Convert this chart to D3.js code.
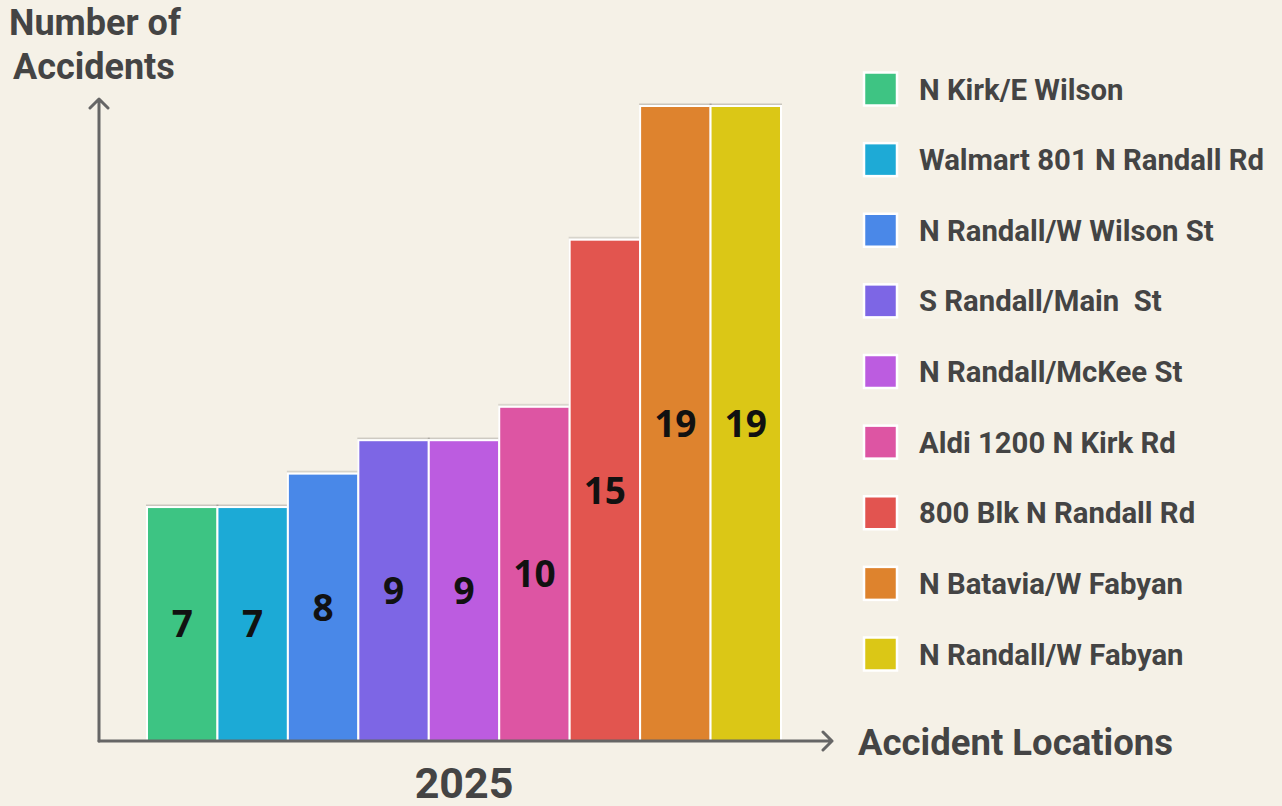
<!DOCTYPE html>
<html>
<head>
<meta charset="utf-8">
<script src="https://cdn.jsdelivr.net/npm/d3@7"></script>
<style>
  html, body { margin: 0; padding: 0; background: #f5f1e7; }
  svg { display: block; }
  text { white-space: pre; }
</style>
</head>
<body>
<svg id="chart" width="1282" height="806"></svg>
<script>
const locations = [
  "N Kirk/E Wilson",
  "Walmart 801 N Randall Rd",
  "N Randall/W Wilson St",
  "S Randall/Main  St",
  "N Randall/McKee St",
  "Aldi 1200 N Kirk Rd",
  "800 Blk N Randall Rd",
  "N Batavia/W Fabyan",
  "N Randall/W Fabyan",
]
const accidents = [7, 7, 8, 9, 9, 10, 15, 19, 19]
const colors = [
  "#3ec483", "#1eaad6", "#4a88e8", "#7d66e5", "#bc5ce0",
  "#dd55a3", "#e25450", "#de832d", "#dbc716",
]
const yearLabel = "2025"

const svg = d3.select("#chart")
const W = 1282, H = 806
svg.append("rect").attr("width", W).attr("height", H).attr("fill", "#f5f1e7")

const defs = svg.append("defs")
const shadow = defs.append("filter").attr("id", "shadow")
  .attr("x", "-5%").attr("y", "-5%").attr("width", "110%").attr("height", "110%")
shadow.append("feDropShadow").attr("dx", 0).attr("dy", -1.5).attr("stdDeviation", 0.6)
  .attr("flood-color", "#000").attr("flood-opacity", 0.18)

const axisColor = "#666"
const textColor = "#444"
const origin = { x: 99, y: 741 }

// scales
const x = d3.scaleBand().domain(locations).range([147, 781]).padding(0)
const y = d3.scaleLinear().domain([0, 19]).range([origin.y, 106])

// bars
const bars = svg.append("g")
bars.selectAll("rect")
  .data(accidents)
  .join("rect")
  .attr("x", (d, i) => x(locations[i]))
  .attr("y", (d) => y(d))
  .attr("width", x.bandwidth())
  .attr("height", (d) => y(0) - y(d))
  .attr("fill", (d, i) => colors[i])
  .attr("stroke", "#fff")
  .attr("stroke-width", 2)
  .attr("filter", "url(#shadow)")

// value labels, centred in each bar
bars.selectAll("text")
  .data(accidents)
  .join("text")
  .attr("x", (d, i) => x(locations[i]) + x.bandwidth() / 2)
  .attr("y", (d) => (y(d) + y(0)) / 2)
  .attr("dy", "0.36em")
  .attr("text-anchor", "middle")
  .attr("font-family", "'Open Sans', 'Noto Sans', sans-serif")
  .attr("font-weight", "bold")
  .attr("font-size", 37)
  .attr("fill", "#111")
  .text((d) => d)

// axes with arrows
const axes = svg.append("g").attr("stroke", axisColor).attr("stroke-width", 3).attr("fill", "none")
  .attr("stroke-linecap", "round").attr("stroke-linejoin", "round")
axes.append("path").attr("d", `M${origin.x},${origin.y} V99 M${origin.x - 9},${108} L${origin.x},99 L${origin.x + 9},108`)
axes.append("path").attr("d", `M${origin.x},${origin.y} H832 M823,${origin.y - 9} L832,${origin.y} L823,${origin.y + 9}`)

// axis titles
const font = "Roboto, 'Noto Sans', sans-serif"
svg.append("text")
  .attr("x", 9).attr("y", 35)
  .attr("font-family", font).attr("font-weight", "bold").attr("font-size", 36)
  .attr("fill", textColor).text("Number of")
svg.append("text")
  .attr("x", 13).attr("y", 79)
  .attr("font-family", font).attr("font-weight", "bold").attr("font-size", 36)
  .attr("fill", textColor).text("Accidents")
svg.append("text")
  .attr("x", 858).attr("y", 755)
  .attr("font-family", font).attr("font-weight", "bold").attr("font-size", 36.5)
  .attr("fill", textColor).text("Accident Locations")
svg.append("text")
  .attr("x", 464).attr("y", 798)
  .attr("text-anchor", "middle")
  .attr("font-family", font).attr("font-weight", "bold").attr("font-size", 43)
  .attr("fill", textColor).text(yearLabel)

// legend
const legendY = d3.scalePoint().domain(locations).range([89, 654])
const legend = svg.append("g")
  .selectAll("g")
  .data(locations)
  .join("g")
  .attr("transform", (d) => `translate(864,${legendY(d)})`)
legend.append("rect")
  .attr("x", 0).attr("y", -16.5)
  .attr("width", 33).attr("height", 33)
  .attr("fill", (d, i) => colors[i])
  .attr("stroke", "#fff").attr("stroke-width", 2.5)
legend.append("text")
  .attr("x", 55).attr("dy", "0.36em")
  .attr("font-family", font).attr("font-weight", "bold").attr("font-size", 29.3)
  .attr("fill", textColor)
  .text((d) => d)
</script>
</body>
</html>
